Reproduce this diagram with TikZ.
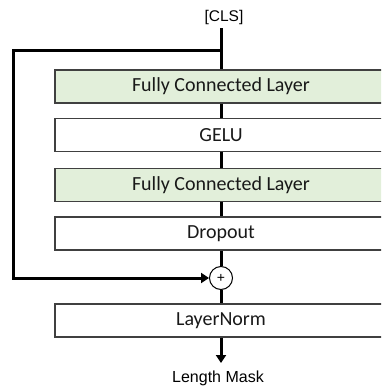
\documentclass[tikz,border=0pt]{standalone}
\usepackage{fontspec}
\setmainfont{Carlito}
\newfontfamily\arialfont{Liberation Sans}
\usetikzlibrary{arrows.meta}
\definecolor{fcgreen}{HTML}{E2EFDA}
\definecolor{boxline}{HTML}{404040}
\begin{document}
\begin{tikzpicture}[x=1pt,y=-1pt,
  layerbox/.style={draw=boxline,line width=1.2pt,minimum width=332pt,minimum height=33pt,
    inner sep=0pt,font=\fontsize{20}{22}\selectfont,text=black!90},
  greenbox/.style={layerbox,fill=fcgreen},
  whitebox/.style={layerbox,fill=white},
  flow/.style={line width=3pt,black},
  tip/.style={-{Triangle[length=8pt,width=10pt]}},
  labeltext/.style={font=\arialfont\fontsize{15.5}{18}\selectfont,inner sep=0pt}]
\clip (0,0) rectangle (381,386);
\fill[white] (0,0) rectangle (381,386);
\node[labeltext] (cls) at (224,17) {[CLS]};
\coordinate (top) at (221,28);
\coordinate (split) at (221,50);
\coordinate (corner1) at (13,50);
\node[greenbox] (fc1) at (221,86.5) {Fully Connected Layer};
\node[whitebox] (gelu) at (221,135) {GELU};
\node[greenbox] (fc2) at (221,185) {Fully Connected Layer};
\node[whitebox] (drop) at (221,233.5) {Dropout};
\node[circle,draw=black,line width=1pt,minimum size=23pt,inner sep=0pt,
  font=\arialfont\fontsize{14}{14}\selectfont] (plus) at (221,278) {+};
\coordinate (corner2) at (13,278);
\node[whitebox] (ln) at (221,320.5) {LayerNorm};
\coordinate (outend) at (221,363);
\node[labeltext,font=\arialfont\fontsize{16}{18}\selectfont] (lm) at (218,378) {Length Mask};
\draw[flow] (top) -- (fc1.north);
\draw[flow] (fc1.south) -- (gelu.north);
\draw[flow] (gelu.south) -- (fc2.north);
\draw[flow] (fc2.south) -- (drop.north);
\draw[flow] (drop.south) -- (plus.north);
\draw[flow] (plus.south) -- (ln.north);
\draw[flow,tip] (ln.south) -- (outend);
\draw[flow,tip] (split) -- (corner1) -- (corner2) -- (plus.west);
\end{tikzpicture}
\end{document}
